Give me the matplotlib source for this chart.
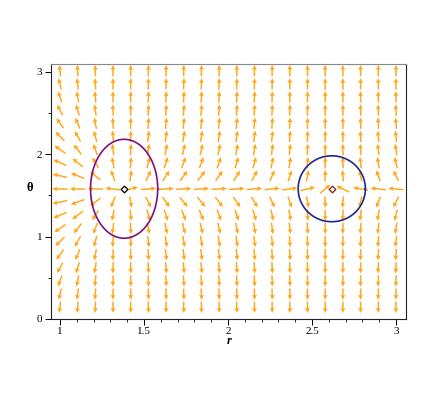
import numpy as np
import matplotlib
matplotlib.use('Agg')
import matplotlib.pyplot as plt

# ---- data ----
r_nodes = np.linspace(1.0, 3.0, 20)
theta_nodes = 1.578 + 0.1595 * np.arange(-9, 10)
eq_r = [1.382, 2.618]
eq_theta = [1.58, 1.58]
ellipse_semi_r = [0.2, 0.2]
ellipse_semi_theta = [0.6, 0.4]
ellipse_colors = ['#7d1180', '#1c2a8a']
marker_colors = ['#111111', '#8b2a2a']
x_ticks = [1, 1.5, 2, 2.5, 3]
x_ticklabels = ['1', '1.5', '2', '2.5', '3']
y_ticks = [0, 1, 2, 3]
y_ticklabels = ['0', '1', '2', '3']
field_gain = 1.7

# ---- figure ----
fig = plt.figure(figsize=(4.36, 4.09), dpi=100)
ax = fig.add_axes([50.7/436, 90/409, 355/436, 254.7/409])
ax.set_xlim(0.945, 3.058)
ax.set_ylim(0.0, 3.09)

R, T = np.meshgrid(r_nodes, theta_nodes)
U = (R - eq_r[0]) * (eq_r[1] - R)
V = -field_gain * R**2 / np.tan(T)
dr = r_nodes[1] - r_nodes[0]
dt = theta_nodes[1] - theta_nodes[0]
Uc, Vc = U / dr, V / dt
n = np.hypot(Uc, Vc)
L = 0.86
Ua = Uc / n * dr * L
Va = Vc / n * dt * L
ax.quiver(R, T, Ua, Va, angles='xy', scale_units='xy', scale=1, pivot='middle',
          color='#FFA81A', units='dots', width=1.5, headwidth=3.3,
          headlength=3.3, headaxislength=2.9, zorder=2)

t = np.linspace(0, 2*np.pi, 300)
for cr, ct, ar, at, c in zip(eq_r, eq_theta, ellipse_semi_r, ellipse_semi_theta, ellipse_colors):
    ax.plot(cr + ar*np.cos(t), ct + at*np.sin(t), color=c, lw=1.2, zorder=3)
for cr, ct, mc in zip(eq_r, eq_theta, marker_colors):
    ax.plot([cr], [ct], marker='D', ms=3.4, mfc='white', mec=mc, mew=1.0, zorder=4)

ax.set_xticks(x_ticks)
ax.set_xticklabels(x_ticklabels)
ax.set_yticks(y_ticks)
ax.set_yticklabels(y_ticklabels)
ax.set_xticks(np.arange(1.0, 3.05, 0.1), minor=True)
ax.set_yticks(np.arange(0, 3.1, 0.5), minor=True)
ax.tick_params(which='major', direction='out', length=4, width=0.7, labelsize=8, pad=2)
ax.tick_params(which='minor', direction='out', length=2.2, width=0.6)
for lab in ax.get_xticklabels() + ax.get_yticklabels():
    lab.set_family('Liberation Serif')
for s in ['left', 'bottom', 'right']:
    ax.spines[s].set_color('#222222')
    ax.spines[s].set_linewidth(0.8)
ax.spines['top'].set_color('#888888')
ax.spines['top'].set_linewidth(0.8)

fig.text(229/436, 1 - 341/409, 'r', family='Liberation Serif', fontweight='bold',
         fontstyle='italic', fontsize=9, ha='center', va='center')
fig.text(30/436, 1 - 188/409, 'θ', family='Liberation Serif', fontweight='bold',
         fontsize=9, ha='center', va='center')

fig.savefig('out.png', dpi=100)
